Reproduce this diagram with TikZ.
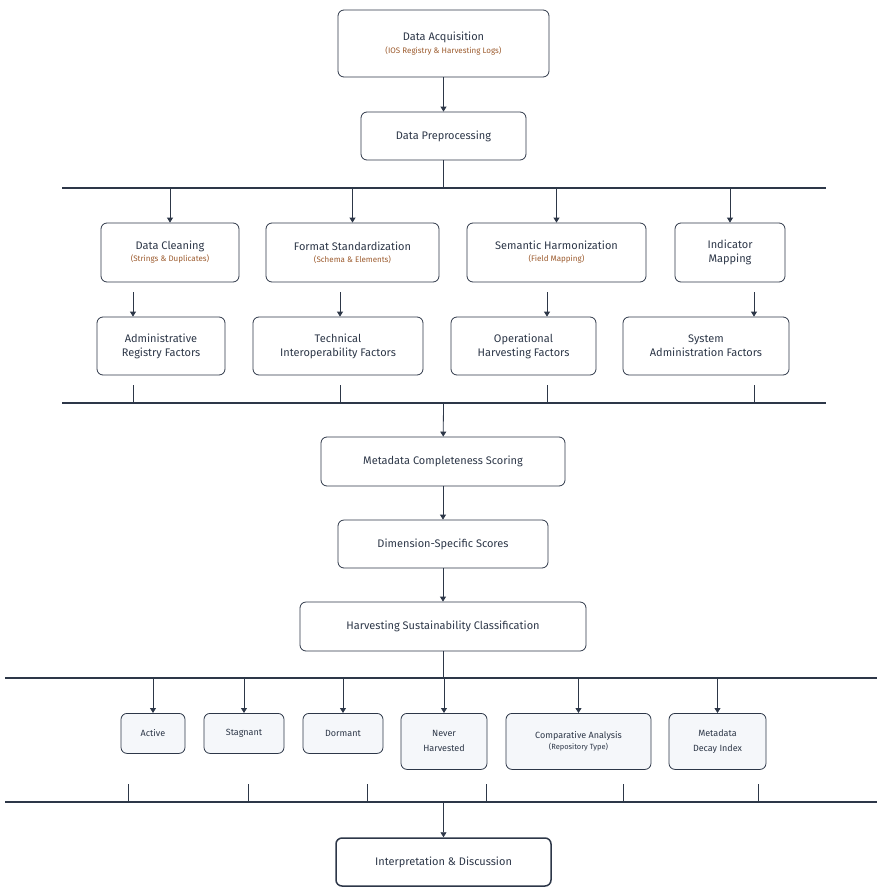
\documentclass[tikz,border=0pt]{standalone}
\usepackage{fontspec}
\setmainfont{Fira Sans}
\usetikzlibrary{arrows.meta,positioning}
\definecolor{ink}{HTML}{2D3748}
\definecolor{subink}{HTML}{9C5B2E}
\definecolor{leaf}{HTML}{F5F7FA}
\newcommand{\subtxt}[1]{{\color{subink}\fontsize{8}{10}\selectfont #1}}
\tikzset{
  box/.style={draw=ink, rounded corners=6pt, thick, align=center, text=ink, inner sep=0pt, font=\fontsize{11}{14}\selectfont},
  leafbox/.style={box, fill=leaf, font=\fontsize{9}{15}\selectfont},
  flow/.style={-{Triangle[width=6pt,length=5pt]}, ink, thick},
  bus/.style={ink, line width=1.3pt},
  tick/.style={ink, thick}
}
\begin{document}
\begin{tikzpicture}[x=1pt,y=-1pt]
  \useasboundingbox (0,0) rectangle (877,891);

  % main chain
  \node[box, minimum width=211pt, minimum height=67pt] (acq) at (443.5,43.5)
    {Data Acquisition\\[-1pt]\subtxt{(IOS Registry \& Harvesting Logs)}};
  \node[box, minimum width=165pt, minimum height=48pt] (prep) at (443.5,136) {Data Preprocessing};
  \draw[flow] (acq) -- (prep);

  % first bus
  \draw[bus] (62,188) -- (826,188);
  \coordinate (b1) at (443.5,188);
  \draw[tick] (prep) -- (b1);

  \node[box, minimum width=138pt, minimum height=59pt] (clean) at (170,252.5)
    {Data Cleaning\\[-2pt]\subtxt{(Strings \& Duplicates)}};
  \node[box, minimum width=173pt, minimum height=59pt] (format) at (352.5,252.5)
    {Format Standardization\\[-2pt]\subtxt{(Schema \& Elements)}};
  \node[box, minimum width=179pt, minimum height=59pt] (sem) at (556.5,252.5)
    {Semantic Harmonization\\[-2pt]\subtxt{(Field Mapping)}};
  \node[box, minimum width=110pt, minimum height=59pt] (ind) at (730,252.5)
    {Indicator\\Mapping};

  \node[box, minimum width=128pt, minimum height=58pt] (admin) at (161,346)
    {Administrative\\Registry Factors};
  \node[box, minimum width=170pt, minimum height=58pt] (tech) at (338,346)
    {Technical\\Interoperability Factors};
  \node[box, minimum width=145pt, minimum height=58pt] (oper) at (523.5,346)
    {Operational\\Harvesting Factors};
  \node[box, minimum width=166pt, minimum height=58pt] (sys) at (706,346)
    {System\\Administration Factors};

  \foreach \n in {clean,format,sem,ind}{
    \draw[flow] (\n.north |- b1) -- (\n.north);
  }
  \foreach \bot/\x in {admin/133, tech/340, oper/547, sys/754}{
    \coordinate (\bot-d) at (\x,292);
    \coordinate (\bot-u) at (\x,385);
    \coordinate (\bot-o) at (\x,403);
    \draw[flow] (\bot-d) -- (\bot.north -| \bot-d);
    \draw[tick] (\bot-u) -- (\bot-o);
  }

  % second bus
  \draw[bus] (62,403) -- (826,403);
  \coordinate (b2) at (443.5,403);

  \node[box, minimum width=244pt, minimum height=49pt] (score) at (443,461.5) {Metadata Completeness Scoring};
  \node[box, minimum width=210pt, minimum height=48pt] (dim) at (443,544) {Dimension-Specific Scores};
  \node[box, minimum width=286pt, minimum height=49pt] (cls) at (443,626.5) {Harvesting Sustainability Classification};
  \draw[flow] (b2) -- (score);
  \draw[flow] (score) -- (dim);
  \draw[flow] (dim) -- (cls);

  % third bus
  \draw[bus] (5,678) -- (877,678);
  \coordinate (b3) at (443,678);
  \draw[tick] (cls) -- (b3);

  \node[leafbox, minimum width=64pt, minimum height=40pt, anchor=north] (act) at (153,713) {Active};
  \node[leafbox, minimum width=80pt, minimum height=40pt, anchor=north] (stag) at (244,713) {Stagnant};
  \node[leafbox, minimum width=80pt, minimum height=40pt, anchor=north] (dorm) at (343,713) {Dormant};
  \node[leafbox, minimum width=86pt, minimum height=56pt, anchor=north] (never) at (444,713) {Never\\Harvested};
  \node[leafbox, minimum width=145pt, minimum height=56pt, anchor=north] (comp) at (578.5,713)
    {Comparative Analysis\\[-4pt]{\fontsize{7.5}{9}\selectfont(Repository Type)}};
  \node[leafbox, minimum width=97pt, minimum height=56pt, anchor=north] (decay) at (717.5,713) {Metadata\\Decay Index};

  \foreach \n in {act,stag,dorm,never,comp,decay}{
    \draw[flow] (\n.north |- b3) -- (\n.north);
  }

  % fourth bus
  \foreach \x in {128,248,367,486,623,758}{
    \coordinate (u\x) at (\x,784);
    \coordinate (o\x) at (\x,802);
    \draw[ink, semithick] (u\x) -- (o\x);
  }
  \draw[bus] (5,802) -- (877,802);
  \coordinate (b4) at (443.5,802);

  \node[box, line width=1.5pt, minimum width=215pt, minimum height=48pt] (disc) at (443.5,862) {Interpretation \& Discussion};
  \draw[flow] (b4) -- (disc);
\end{tikzpicture}
\end{document}
